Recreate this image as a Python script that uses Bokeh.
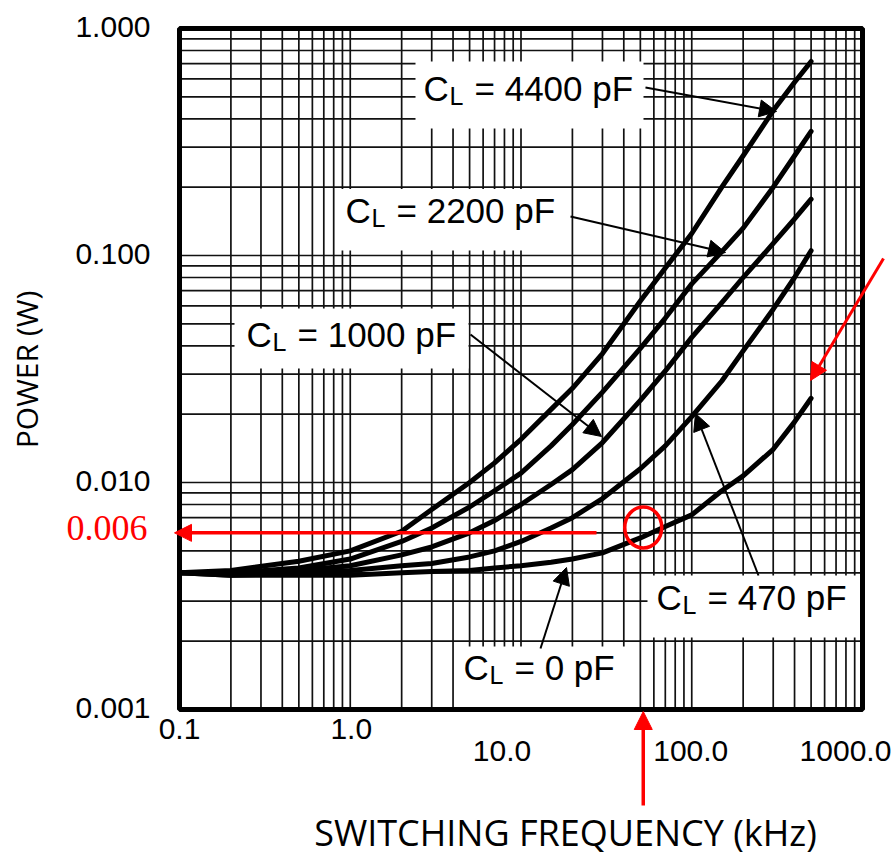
import numpy as np
from bokeh.plotting import figure
from bokeh.models import Range1d, Label, Arrow, NormalHead
from bokeh.embed import file_html
from bokeh.resources import INLINE

# ---------------- data ----------------
freq_khz = [0.1, 0.2, 0.5, 1, 2, 3, 5, 7, 10, 15, 20, 30, 50, 70, 100, 150, 200, 300, 400, 500]
p_0pf    = [0.0040, 0.0039, 0.0039, 0.0039, 0.0040, 0.00405, 0.0041, 0.0042, 0.0043, 0.00445, 0.0046,
            0.0049, 0.0057, 0.0064, 0.0072, 0.0092, 0.0107, 0.0140, 0.0185, 0.0235]
p_470pf  = [0.0040, 0.0039, 0.0040, 0.0041, 0.0043, 0.0044, 0.0047, 0.0050, 0.0055, 0.0063, 0.0070,
            0.0085, 0.0115, 0.0145, 0.0195, 0.028, 0.038, 0.058, 0.080, 0.105]
p_1000pf = [0.0040, 0.0040, 0.0041, 0.0043, 0.0048, 0.0052, 0.0060, 0.0068, 0.0080, 0.0098, 0.0114,
            0.0150, 0.023, 0.031, 0.0436, 0.062, 0.080, 0.113, 0.145, 0.177]
p_2200pf = [0.0040, 0.0040, 0.0042, 0.0046, 0.0055, 0.0063, 0.0078, 0.0092, 0.011, 0.0145, 0.018,
            0.025, 0.039, 0.053, 0.075, 0.104, 0.132, 0.20, 0.275, 0.352]
p_4400pf = [0.0040, 0.0041, 0.0045, 0.0050, 0.0061, 0.0076, 0.0100, 0.0122, 0.0155, 0.021, 0.026,
            0.037, 0.063, 0.088, 0.125, 0.20, 0.275, 0.435, 0.58, 0.716]

series = [p_0pf, p_470pf, p_1000pf, p_2200pf, p_4400pf]
curve_names = ["0", "470", "1000", "2200", "4400"]

x_tick_vals = [0.1, 1, 10, 100, 1000]
x_tick_text = ["0.1", "1.0", "10.0", "100.0", "1000.0"]
y_tick_vals = [1.0, 0.1, 0.01, 0.001]
y_tick_text = ["1.000", "0.100", "0.010", "0.001"]
marked_power = 0.006
marked_power_text = "0.006"
marked_freq = 52.0

# ---------------- layout ----------------
W, H = 896, 857
FL, FR, FT, FB = 179, 862, 28, 709          # plot-area edges in pixels
XMIN, XMAX, YMIN, YMAX = 0.1, 1000.0, 0.001, 1.0
LX0, LX1 = np.log10(XMIN), np.log10(XMAX)
LY0, LY1 = np.log10(YMIN), np.log10(YMAX)
TEXT_DY = -13   # correction so that text baselines land where wanted


def fx(px):
    return float(10 ** (LX0 + (px - FL) / (FR - FL) * (LX1 - LX0)))


def fy(py):
    return float(10 ** (LY1 - (py - FT) / (FB - FT) * (LY1 - LY0)))


def sx(v):
    return FL + (np.log10(v) - LX0) / (LX1 - LX0) * (FR - FL)


def sy(v):
    return FT + (LY1 - np.log10(v)) / (LY1 - LY0) * (FB - FT)


# the frame covers the whole canvas so that nothing gets clipped;
# the log plot area (0.1..1000 x 0.001..1) is drawn inside it.
p = figure(width=W, height=H, title=None,
           x_axis_type="log", y_axis_type="log",
           x_range=Range1d(fx(0), fx(W)), y_range=Range1d(fy(H), fy(0)),
           x_axis_location=None, y_axis_location=None,
           min_border_left=0, min_border_right=0, min_border_top=0, min_border_bottom=0,
           toolbar_location=None, output_backend="svg")
p.background_fill_color = "white"
p.border_fill_color = "white"
p.outline_line_color = None
p.xgrid.visible = False
p.ygrid.visible = False

# grid (1..9 per decade)
xt = [m * 10.0 ** e for e in range(-1, 3) for m in range(1, 10)] + [1000.0]
yt = [m * 10.0 ** e for e in range(-3, 0) for m in range(1, 10)] + [1.0]
p.segment(x0=xt, y0=[YMIN] * len(xt), x1=xt, y1=[YMAX] * len(xt),
          line_color="#111111", line_width=1.7)
p.segment(x0=[XMIN] * len(yt), y0=yt, x1=[XMAX] * len(yt), y1=yt,
          line_color="#111111", line_width=1.7)

# white label boxes (cover grid)
boxes_px = [(415, 643, 61, 128), (335, 569, 188.5, 250), (234, 468, 308, 368),
            (647, 860, 575, 637), (454, 638, 646, 709)]
p.quad(left=[fx(b[0]) for b in boxes_px], right=[fx(b[1]) for b in boxes_px],
       top=[fy(b[2]) for b in boxes_px], bottom=[fy(b[3]) for b in boxes_px],
       fill_color="white", line_color=None)

# curves
for s in series:
    p.line(freq_khz, s, line_color="black", line_width=5,
           line_join="round", line_cap="round")

# plot-area border
p.quad(left=[XMIN], right=[XMAX], top=[YMAX], bottom=[YMIN],
       fill_color=None, line_color="black", line_width=5)

SANS = "Liberation Sans"


def add_label(px, py, text, size, align="left", font=SANS, color="black",
              baseline="alphabetic", angle=0.0):
    if baseline == "alphabetic":
        py = py + TEXT_DY
    p.add_layout(Label(x=fx(px), y=fy(py), text=text, text_font=font,
                       text_font_size=f"{size}px", text_color=color,
                       text_align=align, text_baseline=baseline, angle=angle))


# curve labels  C_L = ... pF
label_pos = {"4400": (423, 101), "2200": (345, 223), "1000": (246, 347),
             "470": (656, 610), "0": (463, 680)}
for name in curve_names:
    x0, yb = label_pos[name]
    add_label(x0, yb, "C", 35)
    add_label(x0 + 26, yb + 7.5, "L", 25)
    add_label(x0 + 51, yb, f"= {name} pF", 35)

# black pointer arrows (start px -> tip px)
arrows_px = [((645, 87), (776, 111)), ((570, 216), (725, 252)),
             ((470, 334), (601, 436)), ((758, 575), (695, 413)),
             ((540, 648), (566, 567))]
for (a, b) in arrows_px:
    p.add_layout(Arrow(end=NormalHead(size=17, fill_color="black", line_color="black", line_width=1),
                       x_start=fx(a[0]), y_start=fy(a[1]), x_end=fx(b[0]), y_end=fy(b[1]),
                       line_color="black", line_width=2))

# tick labels
for v, t in zip(y_tick_vals, y_tick_text):
    add_label(150, sy(v) + 11, t, 30, align="right")
row_y = [741, 741, 763, 763, 763]
row_dx = [0, 1, -19, -1, -17]
for v, t, ry, dx in zip(x_tick_vals, x_tick_text, row_y, row_dx):
    add_label(sx(v) + dx, ry, t, 30, align="center")

# axis titles
add_label(565, 845, "SWITCHING FREQUENCY (kHz)", 36, align="center", font="Open Sans")
add_label(26, 369, "POWER (W)", 30, align="center", font="Open Sans",
          baseline="middle", angle=np.pi / 2)

# red annotations
RED = "#ff0000"
p.add_layout(Arrow(end=NormalHead(size=17, fill_color=RED, line_color=RED, line_width=1),
                   x_start=fx(596), y_start=marked_power, x_end=fx(174), y_end=marked_power,
                   line_color=RED, line_width=3.5))
add_label(147, 540, marked_power_text, 36, align="right", font="Liberation Serif", color=RED)
p.add_layout(Arrow(end=NormalHead(size=18, fill_color=RED, line_color=RED, line_width=1),
                   x_start=marked_freq, y_start=fy(805), x_end=marked_freq, y_end=fy(711),
                   line_color=RED, line_width=3.5))
p.add_layout(Arrow(end=NormalHead(size=17, fill_color=RED, line_color=RED, line_width=1),
                   x_start=fx(883), y_start=fy(258), x_end=fx(810), y_end=fy(380),
                   line_color=RED, line_width=3))
p.ellipse(x=[marked_freq], y=[fy(527)], width=37, height=41,
          width_units="screen", height_units="screen",
          fill_color=None, line_color=RED, line_width=3.5)

open("out.html", "w").write(file_html(p, INLINE))
